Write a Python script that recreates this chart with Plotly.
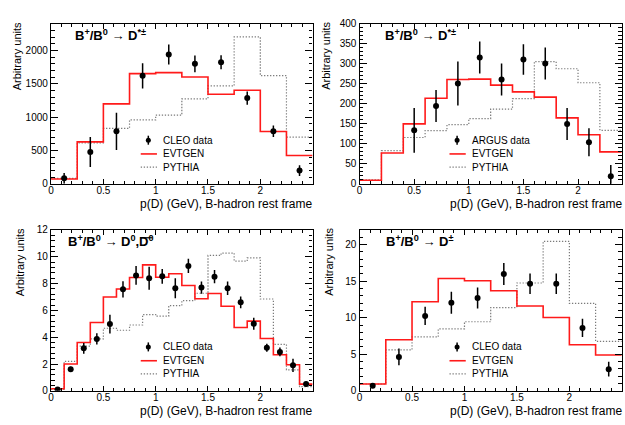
import plotly.graph_objects as go

# ---------------- data ----------------
# B+/B0 -> D*±  (CLEO)
dst_edges = [0, 0.25, 0.5, 0.75, 1.0, 1.25, 1.5, 1.75, 2.0, 2.25, 2.5]
dst_evtgen = [73, 630, 1200, 1655, 1670, 1605, 1345, 1405, 785, 425]
dst_pythia = [82, 615, 833, 960, 1032, 1275, 1470, 2205, 1625, 702]
dst_x = [0.125, 0.375, 0.625, 0.875, 1.125, 1.375, 1.625, 1.875, 2.125, 2.375]
dst_y = [82, 479, 789, 1622, 1942, 1802, 1826, 1288, 789, 199]
dst_err = [80, 225, 280, 190, 150, 125, 105, 100, 85, 80]

# B+/B0 -> D*±  (ARGUS)
arg_edges = [0, 0.2, 0.4, 0.6, 0.8, 1.0, 1.2, 1.4, 1.6, 1.8, 2.0, 2.2, 2.4]
arg_evtgen = [9, 77, 150, 214, 261, 262, 247, 230, 217, 165, 123, 80]
arg_pythia = [10, 83, 116, 133, 148, 163, 187, 213, 306, 288, 253, 134]
arg_x = [0.5, 0.7, 0.9, 1.1, 1.3, 1.5, 1.7, 1.9, 2.1, 2.3]
arg_y = [134, 195, 251, 316, 261, 311, 301, 150, 104, 19]
arg_err = [56, 40, 55, 40, 40, 38, 40, 40, 35, 28]

# B+/B0 -> D0, D0bar  (CLEO)
d0_edges = [0, 0.125, 0.25, 0.375, 0.5, 0.625, 0.75, 0.875, 1.0, 1.125, 1.25,
            1.375, 1.5, 1.625, 1.75, 1.875, 2.0, 2.125, 2.25, 2.375, 2.5]
d0_evtgen = [0.15, 2.0, 3.6, 5.1, 7.0, 7.6, 8.45, 9.4, 8.47, 8.73,
             7.86, 6.87, 7.26, 6.31, 4.72, 5.2, 3.9, 2.69, 1.94, 0.5]
d0_pythia = [0.1, 2.2, 3.34, 3.87, 4.67, 4.52, 4.91, 5.69, 5.57, 6.36,
             6.73, 7.28, 10.1, 10.28, 9.68, 9.92, 6.85, 3.46, 1.57, 0.31]
d0_x = [0.0625, 0.1875, 0.3125, 0.4375, 0.5625, 0.6875, 0.8125, 0.9375, 1.0625, 1.1875,
        1.3125, 1.4375, 1.5625, 1.6875, 1.8125, 1.9375, 2.0625, 2.1875, 2.3125, 2.4375]
d0_y = [0.1, 1.6, 3.17, 3.87, 4.98, 7.57, 8.61, 8.4, 8.54, 7.65,
        9.32, 7.7, 8.52, 7.65, 6.6, 5.0, 3.22, 2.9, 1.9, 0.5]
d0_err = [0.1, 0.2, 0.4, 0.42, 0.7, 0.6, 0.7, 0.85, 0.55, 0.74,
          0.53, 0.45, 0.5, 0.5, 0.43, 0.45, 0.3, 0.33, 0.5, 0.18]

# B+/B0 -> D±  (CLEO)
dpm_edges = [0, 0.25, 0.5, 0.75, 1.0, 1.25, 1.5, 1.75, 2.0, 2.25, 2.5]
dpm_evtgen = [0.93, 6.98, 12.19, 15.36, 15.05, 13.69, 11.61, 10.02, 6.31, 4.9]
dpm_pythia = [0.93, 5.6, 7.37, 8.48, 9.45, 11.39, 14.75, 20.44, 11.96, 6.75]
dpm_x = [0.125, 0.375, 0.625, 0.875, 1.125, 1.375, 1.625, 1.875, 2.125, 2.375]
dpm_y = [0.7, 4.64, 10.24, 12.05, 12.7, 15.98, 14.66, 14.66, 8.6, 2.96]
dpm_err = [0.3, 1.15, 1.25, 1.5, 1.45, 1.5, 1.4, 1.4, 1.25, 1.0]

titles = [
    "B<sup>+</sup>/B<sup>0</sup> \u2192 D<sup>*\u00b1</sup>",
    "B<sup>+</sup>/B<sup>0</sup> \u2192 D<sup>*\u00b1</sup>",
    "B<sup>+</sup>/B<sup>0</sup> \u2192 D<sup>0</sup>,D<sup>0</sup>",
    "B<sup>+</sup>/B<sup>0</sup> \u2192 D<sup>\u00b1</sup>",
]
data_labels = ["CLEO data", "ARGUS data", "CLEO data", "CLEO data"]
x_title = "p(D) (GeV), B-hadron rest frame"
y_title = "Arbitrary units"

panels = [
    dict(edges=dst_edges, evt=dst_evtgen, pyt=dst_pythia, x=dst_x, y=dst_y, e=dst_err,
         xmax=2.499, ymax=2400, dy=500, mdy=100),
    dict(edges=arg_edges, evt=arg_evtgen, pyt=arg_pythia, x=arg_x, y=arg_y, e=arg_err,
         xmax=2.4, ymax=400, dy=50, mdy=10),
    dict(edges=d0_edges, evt=d0_evtgen, pyt=d0_pythia, x=d0_x, y=d0_y, e=d0_err,
         xmax=2.499, ymax=12, dy=2, mdy=0.4),
    dict(edges=dpm_edges, evt=dpm_evtgen, pyt=dpm_pythia, x=dpm_x, y=dpm_y, e=dpm_err,
         xmax=2.499, ymax=22, dy=5, mdy=1),
]

# ---------------- layout geometry (pixels of a 625x425 page) ----------------
W, H = 625, 425
col_x = [(48.3, 311.0), (358.3, 621.7)]
row_y = [(18.5, 183.0), (230.5, 396.0)]
title_x = [0.083, 0.089, 0.057, 0.094]

FONT = "Liberation Sans, Arial, Helvetica, sans-serif"
RED = "#ff1a1a"
GREY = "#7a7a7a"
DOTS = "1.3px,1.7px"

fig = go.Figure()
layout = dict(
    width=W, height=H, margin=dict(l=0, r=0, t=0, b=0),
    paper_bgcolor="white", plot_bgcolor="white", showlegend=False,
    font=dict(family=FONT, color="black", size=10),
)
annotations = []
shapes = []


def step_xy(edges, vals):
    return list(edges), list(vals) + [vals[-1]]


for i, p in enumerate(panels):
    r, c = divmod(i, 2)
    sfx = "" if i == 0 else str(i + 1)
    xa, ya = "x" + sfx, "y" + sfx
    x0p, x1p = col_x[c]
    ytop, ybot = row_y[r]

    sx, sy = step_xy(p["edges"], p["pyt"])
    fig.add_trace(go.Scatter(x=sx, y=sy, mode="lines", line_shape="hv",
                             line=dict(color=GREY, width=1.2, dash=DOTS),
                             xaxis=xa, yaxis=ya, name="PYTHIA"))
    sx, sy = step_xy(p["edges"], p["evt"])
    fig.add_trace(go.Scatter(x=sx, y=sy, mode="lines", line_shape="hv",
                             line=dict(color=RED, width=1.6),
                             xaxis=xa, yaxis=ya, name="EVTGEN"))
    fig.add_trace(go.Scatter(x=p["x"], y=p["y"], mode="markers",
                             marker=dict(color="black", size=6),
                             error_y=dict(type="data", array=p["e"], color="black",
                                          thickness=1.5, width=0),
                             xaxis=xa, yaxis=ya, name=data_labels[i]))

    axis_common = dict(showline=True, linecolor="black", linewidth=1.4, mirror="allticks",
                       ticks="inside", tickcolor="black", showgrid=False, zeroline=False,
                       tickfont=dict(family=FONT, size=10, color="black"))
    layout["xaxis" + sfx] = dict(
        axis_common, domain=[x0p / W, x1p / W], range=[0, p["xmax"]], anchor=ya,
        tickmode="linear", tick0=0, dtick=0.5, ticklen=5, tickwidth=1,
        ticklabelstandoff=-3,
        minor=dict(ticks="inside", dtick=0.1, ticklen=3, tickwidth=1, tickcolor="black"),
    )
    layout["yaxis" + sfx] = dict(
        axis_common, domain=[1 - ybot / H, 1 - ytop / H], range=[0, p["ymax"]], anchor=xa,
        tickmode="linear", tick0=0, dtick=p["dy"], ticklen=7, tickwidth=1,
        minor=dict(ticks="inside", dtick=p["mdy"], ticklen=3.5, tickwidth=1, tickcolor="black"),
    )

    xd, yd = xa + " domain", ya + " domain"
    # panel title
    annotations.append(dict(text="<b>" + titles[i] + "</b>", xref=xd, yref=yd,
                            x=title_x[i], y=0.93, xanchor="left", yanchor="middle",
                            showarrow=False, font=dict(size=13, family=FONT)))
    # axis titles
    annotations.append(dict(text=x_title, xref="paper", yref="paper",
                            x=(x1p + 2) / W, y=1 - (ybot + 21) / H,
                            xanchor="right", yanchor="middle", showarrow=False,
                            font=dict(size=12, family=FONT)))
    annotations.append(dict(text=y_title, xref="paper", yref="paper", textangle=-90,
                            x=(x0p - 34 if r == 0 else x0p - 31) / W, y=1 - (ytop - 4) / H,
                            xanchor="center", yanchor="top", showarrow=False,
                            font=dict(size=11, family=FONT)))

    # legend box contents
    rows = [0.273, 0.187, 0.105]
    labels = [data_labels[i], "EVTGEN", "PYTHIA"]
    for lab, ry in zip(labels, rows):
        annotations.append(dict(text=lab, xref=xd, yref=yd, x=0.422, y=ry,
                                xanchor="left", yanchor="middle", showarrow=False,
                                font=dict(size=10, family=FONT)))
    shapes.append(dict(type="circle", xref=xd, yref=yd, xsizemode="pixel", ysizemode="pixel",
                       xanchor=0.372, yanchor=rows[0], x0=-2.5, x1=2.5, y0=-2.5, y1=2.5,
                       fillcolor="black", line=dict(color="black", width=0)))
    shapes.append(dict(type="line", xref=xd, yref=yd, ysizemode="pixel", yanchor=rows[0],
                       x0=0.372, x1=0.372, y0=-4.5, y1=4.5,
                       line=dict(color="black", width=1.5)))
    shapes.append(dict(type="line", xref=xd, yref=yd, x0=0.343, x1=0.405,
                       y0=rows[1], y1=rows[1], line=dict(color=RED, width=1.6)))
    shapes.append(dict(type="line", xref=xd, yref=yd, x0=0.343, x1=0.405,
                       y0=rows[2], y1=rows[2], line=dict(color=GREY, width=1.2, dash=DOTS)))

# bar over the anti-D0 in the third panel title
shapes.append(dict(type="line", xref="paper", yref="paper",
                   x0=138 / W, x1=150 / W, y0=1 - 238.5 / H, y1=1 - 238.5 / H,
                   line=dict(color="black", width=1.2)))

layout["annotations"] = annotations
layout["shapes"] = shapes
fig.update_layout(**layout)
fig.write_html("out.html")
